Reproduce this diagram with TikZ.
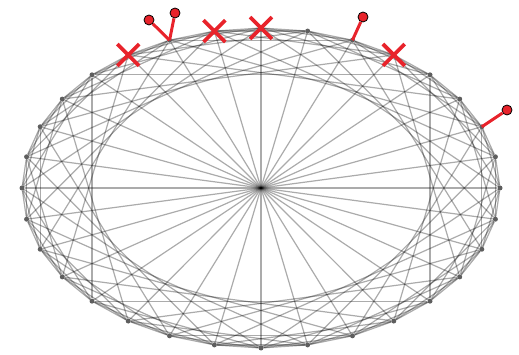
\documentclass[tikz,border=0pt]{standalone}
\usepackage{tikz}
\usetikzlibrary{shapes.misc}
\definecolor{Rojo}{HTML}{E8232B}
\definecolor{GrisPunto}{HTML}{5E5E5E}

\begin{document}
\begin{tikzpicture}[
  x=1pt,y=-1pt,
  link/.style={draw=black,line width=1.2pt,opacity=0.33},
  peer/.style={circle,fill=GrisPunto,inner sep=0pt,minimum size=5pt},
  fail/.style={cross out,draw=Rojo,line width=3.8pt,inner sep=0pt,minimum size=18pt},
  pin/.style={draw=Rojo,line width=3pt},
  head/.style={circle,draw=black,fill=Rojo,line width=0.8pt,inner sep=0pt,minimum size=10pt}
]
  \useasboundingbox (0,0) rectangle (519,355);

  % Anillo de 32 nodos.
  \foreach \i in {0,...,31}
    \node[peer] (p\i) at ({261+239*cos(\i*11.25)},{188-160*sin(\i*11.25)}) {};

  % Enlaces a distancia 1, 2, 4 y 8, y diametros.
  \foreach \i in {0,...,31}
    \foreach \k in {1,2,4,8}{
      \pgfmathtruncatemacro\j{mod(\i+\k,32)}
      \draw[link] (p\i) -- (p\j);
    }
  \foreach \i in {0,...,15}{
    \pgfmathtruncatemacro\j{\i+16}
    \draw[link] (p\i) -- (p\j);
  }

  % Nodos que entran.
  \node[head] (h2) at (507,110) {};
  \node[head] (h6) at (363,17) {};
  \node[head] (h10a) at (149,20) {};
  \node[head] (h10b) at (175,13) {};
  \draw[pin] (p2.center) -- (h2);
  \draw[pin] (p6.center) -- (h6);
  \draw[pin] (p10.center) -- (h10a);
  \draw[pin] (p10.center) -- (h10b);

  % Nodos caidos.
  \node[fail] (x5) at (p5) {};
  \node[fail] (x8) at (p8) {};
  \node[fail] (x9) at (p9) {};
  \node[fail] (x11) at (p11) {};
\end{tikzpicture}
\end{document}
